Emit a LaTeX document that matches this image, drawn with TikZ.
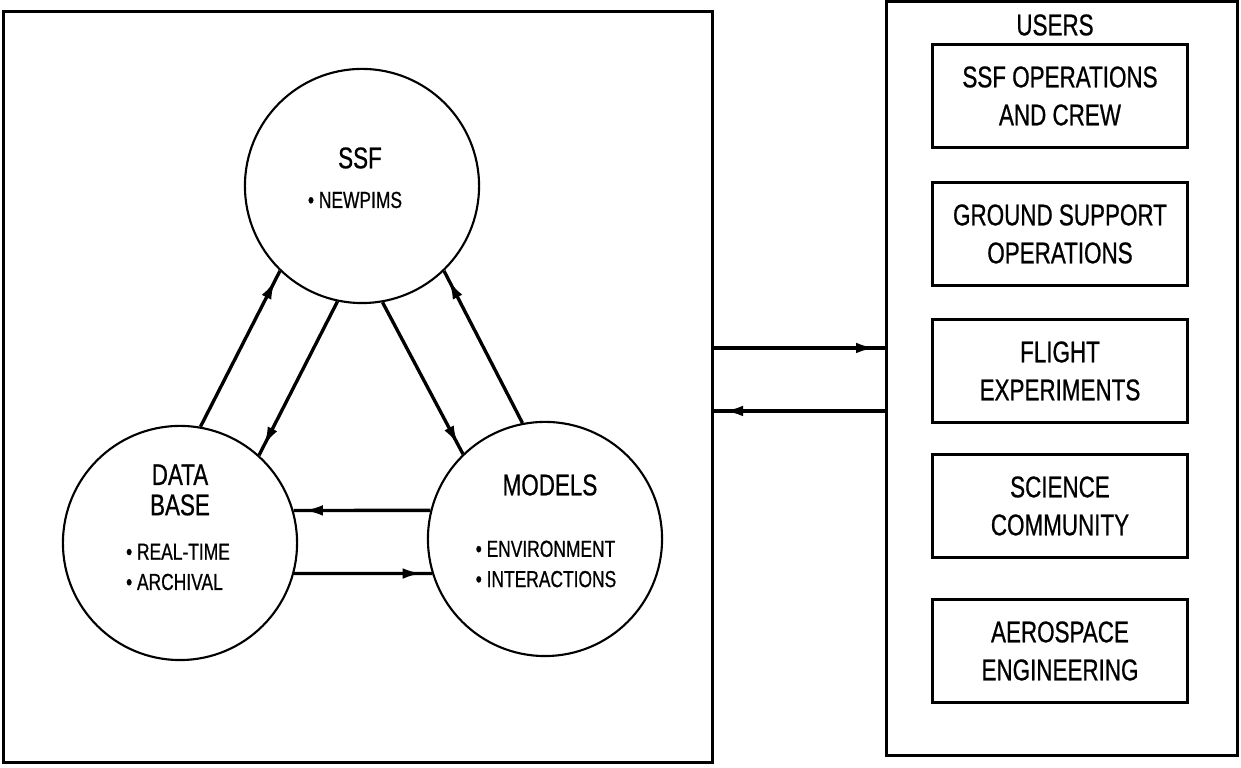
\documentclass[tikz,border=0pt]{standalone}
\usepackage{fontspec}
\setmainfont{Liberation Sans}[FakeStretch=0.75,FakeBold=0.7]
\usetikzlibrary{arrows.meta,decorations.markings}
\tikzset{
  bigtxt/.style={font=\fontsize{8.5}{8.6}\selectfont, align=center, inner sep=0pt},
  smalltxt/.style={font=\fontsize{6.6}{8.6}\selectfont, align=left, inner sep=0pt},
  blob/.style={draw, circle, line width=0.6pt, minimum size=2.34cm, inner sep=0pt},
  frame/.style={draw, line width=0.85pt, inner sep=0pt},
  userbox/.style={draw, line width=0.75pt, minimum width=2.55cm, minimum height=1.03cm,
    align=center, inner sep=0pt, font=\fontsize{8.5}{10.8}\selectfont},
  flow/.style={line width=0.95pt, postaction={decorate},
    decoration={markings, mark=at position -0.1cm with {\arrow{Latex[length=5.5pt,width=3pt]}}}},
}
\begin{document}
\begin{tikzpicture}[x=0.01cm,y=-0.01cm]
                \useasboundingbox (0,0) rectangle (1241,768);
                %Frames
                \node[frame, minimum width=7.08cm, minimum height=7.5cm] (sys) at (358,387) {};
                \node[frame, minimum width=3.5cm, minimum height=7.53cm] (users) at (1062,378.5) {};
                %Circles
                \node[blob] (ssf) at (362,186) {};
                \node[blob] (db) at (180,543) {};
                \node[blob] (mod) at (545,539) {};
                %Circle texts
                \node[bigtxt] (ssflbl) at (360,158) {SSF};
                \node[smalltxt] (ssfitem) at (355,200) {\textbullet\ NEWPIMS};
                \node[bigtxt] (dblbl) at (180,490) {DATA\\BASE};
                \node[smalltxt] (dbitems) at (178,567) {\textbullet\ REAL-TIME\\\textbullet\ ARCHIVAL};
                \node[bigtxt] (modlbl) at (550,485) {MODELS};
                \node[smalltxt] (moditems) at (546,564) {\textbullet\ ENVIRONMENT\\\textbullet\ INTERACTIONS};
                %Links between circles
                \draw[flow] (db.80) -- (ssf.226);
                \draw[flow] (ssf.258) -- (db.48);
                \draw[flow] (ssf.280) -- (mod.134);
                \draw[flow] (mod.101) -- (ssf.314);
                \draw[flow] (mod.166) -- (db.16);
                \draw[flow] (db.-15) -- (mod.197);
                %Users
                \node[bigtxt] (userslbl) at (1055,25) {USERS};
                \node[userbox] (ops) at (1060,96) {SSF OPERATIONS\\AND CREW};
                \node[userbox] (ground) at (1060,234) {GROUND SUPPORT\\OPERATIONS};
                \node[userbox] (flight) at (1060,371) {FLIGHT\\EXPERIMENTS};
                \node[userbox] (sci) at (1060,506) {SCIENCE\\COMMUNITY};
                \node[userbox] (aero) at (1060,651) {AEROSPACE\\ENGINEERING};
                %Links to users
                \coordinate (io1) at (0,348);
                \coordinate (io2) at (0,411);
                \draw[flow] (io1 -| sys.east) -- (io1 -| users.west);
                \draw[flow] (io2 -| users.west) -- (io2 -| sys.east);
            \end{tikzpicture}
\end{document}
